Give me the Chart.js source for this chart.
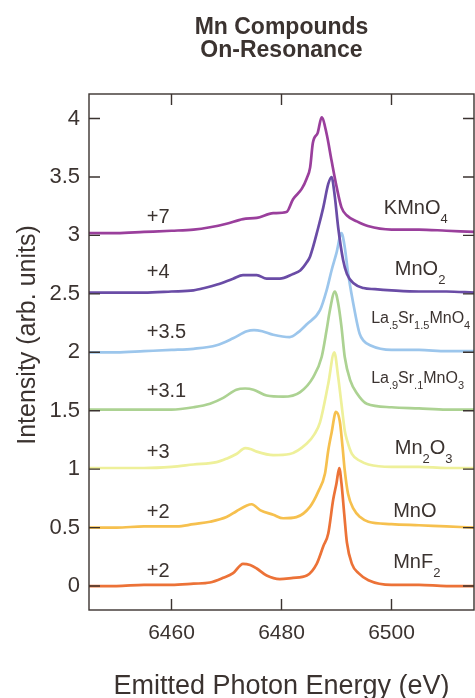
<!DOCTYPE html>
<html>
<head>
<meta charset="utf-8">
<script src="https://cdn.jsdelivr.net/npm/chart.js@4.4.1/dist/chart.umd.min.js"></script>
<style>
  html, body { margin: 0; padding: 0; background: #fff; }
  canvas { display: block; }
</style>
</head>
<body>
<canvas id="grafico" width="475" height="698"></canvas>
<script>
// spectra: [emitted energy (eV), intensity incl. offset]
var kmno4 = [[6445,3.02],[6450,3.02],[6455,3.03],[6460,3.04],[6464,3.05],[6467,3.07],[6470,3.10],[6473,3.14],[6475.5,3.15],[6478.5,3.19],[6480.9,3.20],[6482.1,3.31],[6483.7,3.40],[6484.6,3.49],[6485.2,3.58],[6485.7,3.79],[6486.6,3.88],[6487.3,4.01],[6488.2,3.87],[6489.1,3.64],[6490.0,3.42],[6490.9,3.24],[6491.9,3.17],[6493.7,3.12],[6495.7,3.08],[6500,3.05],[6505,3.05],[6510,3.04],[6515,3.03]];
var mno2 = [[6445,2.51],[6450,2.51],[6455,2.51],[6460,2.52],[6464,2.53],[6466,2.55],[6468.3,2.58],[6471.2,2.63],[6473,2.66],[6475.5,2.66],[6477.3,2.63],[6479.7,2.63],[6482.1,2.67],[6483.4,2.70],[6484.6,2.77],[6485.2,2.82],[6486.7,3.07],[6487.6,3.24],[6488.5,3.44],[6489.1,3.50],[6489.7,3.33],[6490.3,3.07],[6491.2,2.79],[6491.9,2.67],[6493.1,2.59],[6494.9,2.55],[6497,2.54],[6500,2.53],[6505,2.52],[6510,2.52],[6515,2.51]];
var la5sr15 = [[6445,2.00],[6450,2.00],[6455,2.01],[6460,2.02],[6464,2.03],[6468.2,2.06],[6471.2,2.12],[6473.7,2.18],[6475,2.19],[6476.5,2.18],[6478.5,2.15],[6481.5,2.13],[6483,2.17],[6484.6,2.24],[6487,2.36],[6488.2,2.53],[6489.1,2.70],[6490.0,2.85],[6490.9,3.02],[6491.5,2.90],[6492.1,2.68],[6493.4,2.33],[6494.2,2.16],[6494.9,2.10],[6496.1,2.06],[6500,2.02],[6505,2.02],[6510,2.01],[6515,2.01]];
var la9sr1 = [[6445,1.51],[6450,1.51],[6455,1.51],[6460,1.51],[6464,1.53],[6467,1.56],[6469.4,1.61],[6471.8,1.68],[6473.4,1.69],[6474.9,1.68],[6477.3,1.63],[6480.3,1.62],[6483.4,1.66],[6485.8,1.79],[6487.3,1.96],[6488.2,2.19],[6488.8,2.36],[6489.7,2.52],[6490.3,2.42],[6490.9,2.22],[6491.5,1.96],[6492.5,1.76],[6493.7,1.65],[6495.5,1.56],[6500,1.53],[6505,1.52],[6510,1.51],[6515,1.51]];
var mn2o3 = [[6445,1.01],[6450,1.01],[6455,1.01],[6460,1.02],[6464,1.04],[6468.2,1.06],[6470,1.09],[6471.8,1.13],[6473.4,1.18],[6474.5,1.17],[6475.5,1.15],[6478.5,1.12],[6481.5,1.13],[6484.6,1.22],[6486,1.30],[6487,1.40],[6488.5,1.73],[6489.6,2.00],[6490.3,1.79],[6490.9,1.56],[6491.5,1.33],[6491.9,1.25],[6492.8,1.13],[6494.3,1.07],[6495.8,1.04],[6500,1.02],[6505,1.02],[6510,1.01],[6515,1.01]];
var mno = [[6445,0.50],[6450,0.50],[6455,0.51],[6461,0.51],[6464,0.53],[6467,0.55],[6470,0.59],[6471.8,0.64],[6473.7,0.69],[6474.6,0.70],[6476.1,0.65],[6478.5,0.61],[6480.3,0.58],[6482.7,0.59],[6485.2,0.68],[6486.7,0.81],[6487.9,0.96],[6488.5,1.16],[6489.1,1.31],[6489.9,1.49],[6490.6,1.41],[6491.1,1.19],[6491.5,0.99],[6492.1,0.79],[6493.1,0.66],[6494.3,0.59],[6495.8,0.55],[6500,0.53],[6505,0.52],[6510,0.51],[6515,0.50]];
var mnf2 = [[6445,0.00],[6450,0.00],[6455,0.01],[6460,0.01],[6464,0.02],[6467,0.03],[6469.4,0.07],[6471.2,0.11],[6473,0.19],[6474.3,0.18],[6475.5,0.15],[6477.3,0.09],[6479.7,0.06],[6482.1,0.07],[6484.6,0.09],[6486.4,0.19],[6487.6,0.34],[6488.5,0.45],[6489.4,0.74],[6490.0,0.88],[6490.5,1.01],[6490.9,0.88],[6491.4,0.62],[6491.9,0.37],[6492.8,0.19],[6494,0.11],[6495.8,0.05],[6500,0.01],[6505,0.01],[6510,0.00],[6515,0.00]];

var spectra = [kmno4, mno2, la5sr15, la9sr1, mn2o3, mno, mnf2];
var baselines = [3, 2.5, 2, 1.5, 1, 0.5, 0];
var compounds = ["KMnO_4", "MnO_2", "La_.5Sr_1.5MnO_4", "La_.9Sr_.1MnO_3", "Mn_2O_3", "MnO", "MnF_2"];
var oxidation = ["+7", "+4", "+3.5", "+3.1", "+3", "+2", "+2"];
var xTicks = [6460, 6480, 6500];
var yTicks = [0, 0.5, 1, 1.5, 2, 2.5, 3, 3.5, 4];

var colors = ["#9a3f9c", "#6a4ca6", "#9cc6ec", "#acd292", "#eef09a", "#f6c04e", "#ec7237"];
var ink = "#3b3330";
var family = "'Liberation Sans', Arial, sans-serif";

// where the text sits: x in eV, y as pixel offset above the curve's baseline
var oxSpot = { x: 6455.5, dy: [-18, -21, -20, -19, -17, -15, -15] };
var nameSpots = [
  { x: 6498.6, dy: -21, size: 20, sub: 13, drop: 9 },
  { x: 6500.6, dy: -19, size: 20, sub: 13, drop: 9 },
  { x: 6496.3, dy: -29, size: 16, sub: 11, drop: 6 },
  { x: 6496.3, dy: -28, size: 16, sub: 11, drop: 6 },
  { x: 6500.6, dy: -15, size: 20, sub: 13, drop: 9 },
  { x: 6500.3, dy: -11, size: 20, sub: 13, drop: 9 },
  { x: 6500.3, dy: -18, size: 20, sub: 13, drop: 9 }
];

function drawFormula(ctx, text, x, y, spot) {
  var parts = text.split(/_([0-9.]+)/);
  parts.forEach(function (p, k) {
    if (!p) return;
    var sub = k % 2 === 1;
    ctx.font = (sub ? spot.sub : spot.size) + "px " + family;
    ctx.fillText(p, x, sub ? y + spot.drop : y);
    x += ctx.measureText(p).width;
  });
}

var decor = {
  id: "decor",
  afterDraw: function (chart) {
    var ctx = chart.ctx, a = chart.chartArea;
    var xs = chart.scales.x, ys = chart.scales.y;
    ctx.save();
    ctx.strokeStyle = ink;
    ctx.lineWidth = 1.4;
    ctx.strokeRect(a.left, a.top, a.right - a.left, a.bottom - a.top);

    // tick marks point into the plot on all four sides
    ctx.beginPath();
    xTicks.forEach(function (v) {
      var px = xs.getPixelForValue(v);
      ctx.moveTo(px, a.top); ctx.lineTo(px, a.top + 11);
      ctx.moveTo(px, a.bottom); ctx.lineTo(px, a.bottom - 11);
    });
    yTicks.forEach(function (v) {
      var py = ys.getPixelForValue(v);
      ctx.moveTo(a.left, py); ctx.lineTo(a.left + 11, py);
      ctx.moveTo(a.right, py); ctx.lineTo(a.right - 11, py);
    });
    ctx.stroke();

    ctx.fillStyle = ink;
    ctx.textAlign = "left";

    // oxidation states
    ctx.textBaseline = "middle";
    ctx.font = "20px " + family;
    oxidation.forEach(function (t, i) {
      ctx.fillText(t, xs.getPixelForValue(oxSpot.x), ys.getPixelForValue(baselines[i]) + oxSpot.dy[i]);
    });

    // compound names with subscripts
    ctx.textBaseline = "alphabetic";
    compounds.forEach(function (t, i) {
      var s = nameSpots[i];
      drawFormula(ctx, t, xs.getPixelForValue(s.x), ys.getPixelForValue(baselines[i]) + s.dy, s);
    });

    // y axis title
    ctx.save();
    ctx.translate(28, (a.top + a.bottom) / 2 - 17);
    ctx.rotate(-Math.PI / 2);
    ctx.textAlign = "center";
    ctx.textBaseline = "middle";
    ctx.font = "25px " + family;
    ctx.fillText("Intensity (arb. units)", 0, 0);
    ctx.restore();

    ctx.restore();
  }
};

var config = {
  type: "line",
  data: {
    datasets: spectra.map(function (s, i) {
      return {
        label: compounds[i],
        data: s.map(function (p) { return { x: p[0], y: p[1] }; }),
        borderColor: colors[i],
        backgroundColor: colors[i],
        borderWidth: 2.7,
        pointRadius: 0,
        cubicInterpolationMode: "monotone",
        fill: false
      };
    })
  },
  options: {
    responsive: false,
    animation: false,
    devicePixelRatio: 1,
    layout: { padding: { right: 1 } },
    plugins: {
      legend: { display: false },
      tooltip: { enabled: false },
      title: {
        display: true,
        fullSize: false,
        text: ["Mn Compounds", "On-Resonance"],
        color: ink,
        font: { family: family, size: 23, weight: "bold", lineHeight: 1.0 },
        padding: { top: 16, bottom: 32 }
      }
    },
    scales: {
      x: {
        type: "linear",
        min: 6445,
        max: 6515,
        afterBuildTicks: function (scale) {
          scale.ticks = xTicks.map(function (v) { return { value: v }; });
        },
        afterFit: function (scale) { scale.height = 88; },
        grid: { display: false, drawTicks: false },
        border: { display: false },
        ticks: {
          color: ink,
          font: { family: family, size: 21 },
          padding: 11,
          maxRotation: 0,
          callback: function (v) { return String(v); }
        },
        title: {
          display: true,
          text: "Emitted Photon Energy (eV)",
          color: ink,
          font: { family: family, size: 27, lineHeight: 1 },
          padding: { top: 0, bottom: -2 }
        }
      },
      y: {
        type: "linear",
        min: -0.205,
        max: 4.21,
        afterBuildTicks: function (scale) {
          scale.ticks = yTicks.map(function (v) { return { value: v }; });
        },
        afterFit: function (scale) { scale.width = 89; },
        grid: { display: false, drawTicks: false },
        border: { display: false },
        ticks: {
          color: ink,
          font: { family: family, size: 22 },
          padding: 9,
          callback: function (v) { return String(v); }
        }
      }
    }
  },
  plugins: [decor]
};

var graficoMn = new Chart(document.getElementById("grafico"), config);
</script>
</body>
</html>
